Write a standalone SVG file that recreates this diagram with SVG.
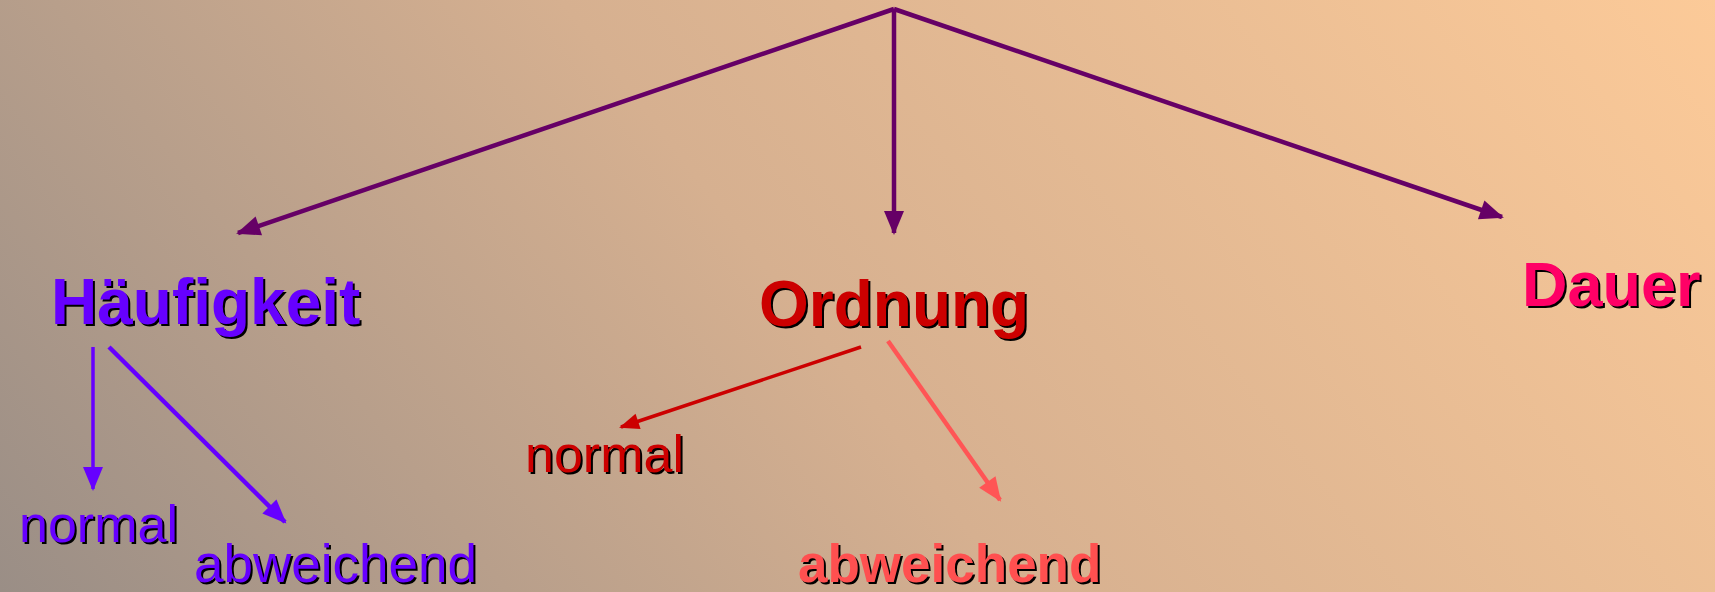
<svg xmlns="http://www.w3.org/2000/svg" width="1715" height="592" viewBox="0 0 1715 592">
<defs>
<linearGradient id="bg" gradientUnits="userSpaceOnUse" x1="0" y1="592" x2="1420" y2="-500">
<stop offset="0" stop-color="#9a8e86"/>
<stop offset="0.45" stop-color="#d6b090"/>
<stop offset="1" stop-color="#ffcc99"/>
</linearGradient>
<marker id="mP" markerWidth="24" markerHeight="20" refX="22" refY="10" orient="auto" markerUnits="userSpaceOnUse" overflow="visible"><path d="M0,0 L24,10 L0,20 Z" fill="#660066"/></marker>
<marker id="mV" markerWidth="24" markerHeight="20" refX="22" refY="10" orient="auto" markerUnits="userSpaceOnUse" overflow="visible"><path d="M0,0 L24,10 L0,20 Z" fill="#6600ff"/></marker>
<marker id="mR" markerWidth="20" markerHeight="16" refX="18" refY="8" orient="auto" markerUnits="userSpaceOnUse" overflow="visible"><path d="M0,0 L20,8 L0,16 Z" fill="#cc0000"/></marker>
<marker id="mS" markerWidth="24" markerHeight="20" refX="22" refY="10" orient="auto" markerUnits="userSpaceOnUse" overflow="visible"><path d="M0,0 L24,10 L0,20 Z" fill="#ff5555"/></marker>
</defs>
<style>
.b{font-family:"Liberation Sans",Arial,sans-serif;font-weight:bold;font-size:64px}
.r{font-family:"Liberation Sans",Arial,sans-serif;font-size:52px}
.rb{font-family:"Liberation Sans",Arial,sans-serif;font-weight:bold;font-size:53px}
.sh{fill:#000}
line{fill:none}
</style>
<rect width="1715" height="592" fill="url(#bg)"/>
<g id="connectors">
<line x1="894" y1="9" x2="238" y2="233" stroke="#660066" stroke-width="4.5" marker-end="url(#mP)"/>
<line x1="894" y1="9" x2="894" y2="233" stroke="#660066" stroke-width="4.5" marker-end="url(#mP)"/>
<line x1="894" y1="9" x2="1502" y2="217" stroke="#660066" stroke-width="4.5" marker-end="url(#mP)"/>
<line x1="93" y1="347" x2="93" y2="489" stroke="#6600ff" stroke-width="3.5" marker-end="url(#mV)"/>
<line x1="109" y1="347" x2="285" y2="522" stroke="#6600ff" stroke-width="4.5" marker-end="url(#mV)"/>
<line x1="861" y1="347" x2="621" y2="427" stroke="#cc0000" stroke-width="3.5" marker-end="url(#mR)"/>
<line x1="888" y1="341" x2="1000" y2="500" stroke="#ff5555" stroke-width="4.5" marker-end="url(#mS)"/>
</g>
<g id="haeufigkeit">
<text class="b sh" x="53" y="326">Häufigkeit</text>
<text class="b" x="51" y="324" fill="#6600ff">Häufigkeit</text>
</g>
<g id="ordnung">
<text class="b sh" x="761" y="328">Ordnung</text>
<text class="b" x="759" y="326" fill="#cc0000">Ordnung</text>
</g>
<g id="dauer">
<text class="b sh" x="1524" y="308" style="font-size:63px">Dauer</text>
<text class="b" x="1522" y="306" fill="#ff0066" style="font-size:63px">Dauer</text>
</g>
<g id="h-normal">
<text class="r sh" x="21" y="544">normal</text>
<text class="r" x="19" y="542" fill="#6600ff">normal</text>
</g>
<g id="h-abweichend">
<text class="r sh" x="196" y="584" style="font-size:53px">abweichend</text>
<text class="r" x="194" y="582" fill="#6600ff" style="font-size:53px">abweichend</text>
</g>
<g id="o-normal">
<text class="r sh" x="527" y="474">normal</text>
<text class="r" x="525" y="472" fill="#cc0000">normal</text>
</g>
<g id="o-abweichend">
<text class="rb sh" x="800" y="584">abweichend</text>
<text class="rb" x="798" y="582" fill="#ff5050">abweichend</text>
</g>
</svg>
